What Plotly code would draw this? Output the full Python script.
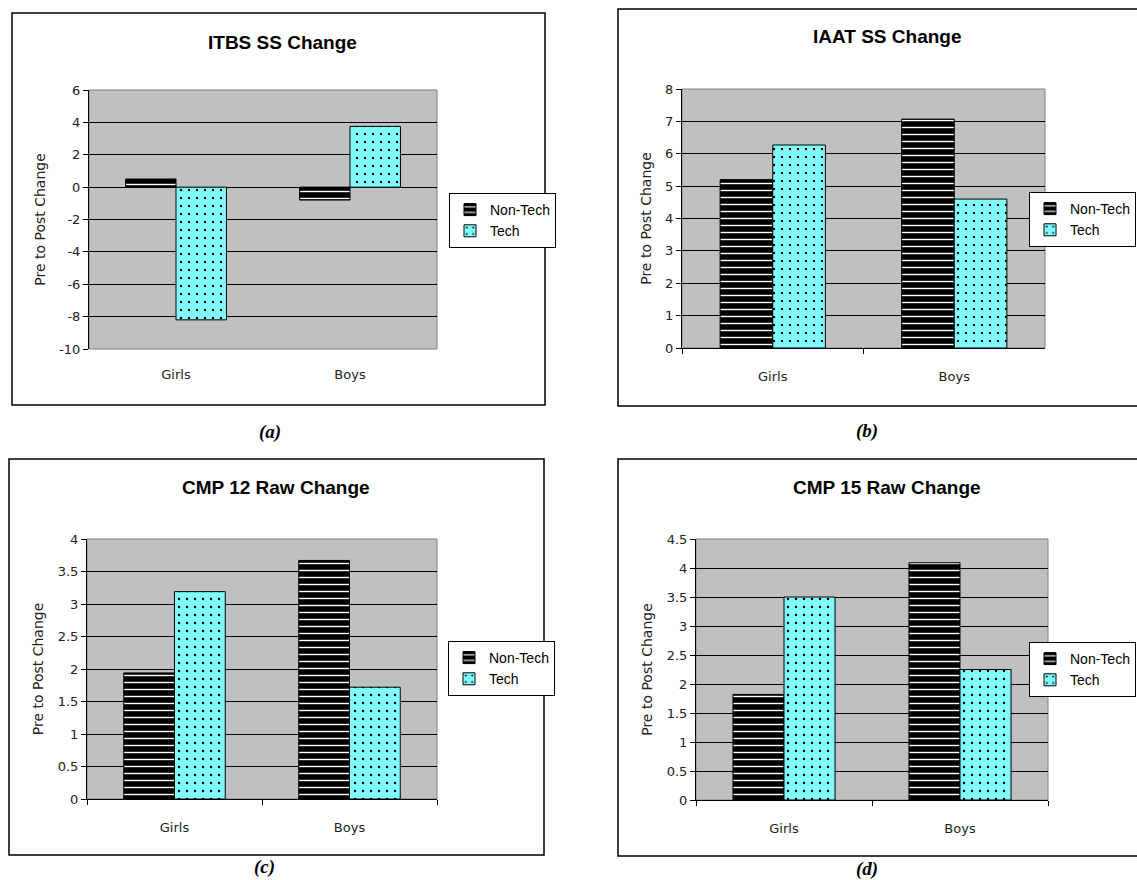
import plotly.graph_objects as go

# ---------------- data ----------------
categories = ["Girls", "Boys"]
series_names = ["Non-Tech", "Tech"]

titles = ["ITBS SS Change", "IAAT SS Change", "CMP 12 Raw Change", "CMP 15 Raw Change"]
captions = ["(a)", "(b)", "(c)", "(d)"]
y_title = "Pre to Post Change"

itbs_nontech = [0.5, -0.8]
itbs_tech = [-8.2, 3.75]
iaat_nontech = [5.2, 7.07]
iaat_tech = [6.27, 4.6]
cmp12_nontech = [1.94, 3.67]
cmp12_tech = [3.19, 1.72]
cmp15_nontech = [1.82, 4.09]
cmp15_tech = [3.5, 2.25]

itbs_ticks = [-10, -8, -6, -4, -2, 0, 2, 4, 6]
iaat_ticks = [0, 1, 2, 3, 4, 5, 6, 7, 8]
cmp12_ticks = [0, 0.5, 1, 1.5, 2, 2.5, 3, 3.5, 4]
cmp15_ticks = [0, 0.5, 1, 1.5, 2, 2.5, 3, 3.5, 4, 4.5]

panels = [
    (itbs_nontech, itbs_tech, itbs_ticks),
    (iaat_nontech, iaat_tech, iaat_ticks),
    (cmp12_nontech, cmp12_tech, cmp12_ticks),
    (cmp15_nontech, cmp15_tech, cmp15_ticks),
]

# ---------------- layout geometry (pixels) ----------------
W, H = 1137, 880
# plot area: x0, x1, ytop, ybottom
plot_px = [(89, 437, 90, 349), (682, 1045, 89, 348), (87, 437, 539, 799), (696, 1048, 539, 800)]
box_px = [(12, 13, 545, 405), (618, 9, 1145, 406), (9, 459, 544, 855), (618, 459, 1145, 856)]
title_px = [(282, 42), (887, 37), (276, 487), (887, 487)]
caption_px = [(270, 432), (867, 431), (264, 867), (867, 869)]
legend_px = [(449, 193), (1029, 192), (448, 641), (1029, 642)]

FONT = "Liberation Sans, Arial, sans-serif"
TICKFONT = "DejaVu Sans, Verdana, sans-serif"
def px(x): return x / W
def py(y): return 1 - y / H

fig = go.Figure()
legend_keys = ["legend", "legend2", "legend3", "legend4"]

for i, (nt, te, ticks) in enumerate(panels):
    ax = "" if i == 0 else str(i + 1)
    fig.add_trace(go.Bar(
        x=categories, y=nt, name=series_names[0],
        xaxis="x" + ax, yaxis="y" + ax, legend=legend_keys[i],
        marker=dict(color="black", line=dict(color="black", width=1),
                    pattern=dict(shape="-", fgcolor="white", bgcolor="black",
                                 size=7, solidity=0.2, fillmode="replace")),
    ))
    fig.add_trace(go.Bar(
        x=categories, y=te, name=series_names[1],
        xaxis="x" + ax, yaxis="y" + ax, legend=legend_keys[i],
        marker=dict(color="#80FFFF", line=dict(color="black", width=1),
                    pattern=dict(shape=".", fgcolor="black", bgcolor="#80FFFF",
                                 size=8, solidity=0.08, fillmode="replace")),
    ))

layout = dict(
    width=W, height=H,
    margin=dict(l=0, r=0, t=0, b=0, autoexpand=False),
    paper_bgcolor="white", plot_bgcolor="#C0C0C0",
    barmode="group", bargap=0.42, bargroupgap=0,
    font=dict(family=FONT, size=12, color="black"),
    showlegend=True,
)

shapes = []
annotations = []
for i, (nt, te, ticks) in enumerate(panels):
    ax = "" if i == 0 else str(i + 1)
    x0, x1, yt, yb = plot_px[i]
    lo, hi = ticks[0], ticks[-1]
    layout["xaxis" + ax] = dict(
        domain=[px(x0), px(x1)], anchor="y" + ax,
        type="category", showgrid=False,
        showline=(i != 0), linecolor="black", linewidth=1,
        ticks="outside" if i != 0 else "", ticklen=5, tickcolor="black",
        tickson="boundaries", ticklabelstandoff=16,
        tickfont=dict(family=TICKFONT, size=13, color="#222"),
        fixedrange=True,
    )
    layout["yaxis" + ax] = dict(
        domain=[py(yb), py(yt)], anchor="x" + ax,
        range=[lo, hi], tickvals=ticks,
        ticktext=[("%g" % t) for t in ticks],
        showgrid=True, gridcolor="black", gridwidth=1,
        zeroline=True, zerolinecolor="black", zerolinewidth=1,
        showline=True, linecolor="black", linewidth=1,
        ticks="outside", ticklen=5, tickcolor="black",
        tickfont=dict(family=TICKFONT, size=13, color="#222"),
        title=dict(text=y_title, font=dict(family=TICKFONT, size=14, color="#222"), standoff=10),
        fixedrange=True,
    )
    # plot area border (gray top/right)
    shapes.append(dict(type="rect", xref="x%s domain" % ax, yref="y%s domain" % ax,
                       x0=0, x1=1, y0=0, y1=1, line=dict(color="#808080", width=1),
                       layer="below"))
    # outer chart box
    bx0, by0, bx1, by1 = box_px[i]
    shapes.append(dict(type="rect", xref="paper", yref="paper",
                       x0=px(bx0), x1=px(bx1), y0=py(by1), y1=py(by0),
                       line=dict(color="black", width=1.5)))
    tx, ty = title_px[i]
    annotations.append(dict(text="<b>%s</b>" % titles[i], x=px(tx), y=py(ty),
                            xref="paper", yref="paper", showarrow=False,
                            xanchor="center", yanchor="middle",
                            font=dict(family=FONT, size=19, color="black")))
    cx, cy = caption_px[i]
    annotations.append(dict(text="<b><i>%s</i></b>" % captions[i], x=px(cx), y=py(cy),
                            xref="paper", yref="paper", showarrow=False,
                            xanchor="center", yanchor="middle",
                            font=dict(family="Liberation Serif, Times New Roman, serif", size=19, color="black")))
    lx, ly = legend_px[i]
    layout[legend_keys[i]] = dict(
        x=px(lx), y=py(ly), xanchor="left", yanchor="top",
        xref="paper", yref="paper",
        bgcolor="white", bordercolor="black", borderwidth=1,
        font=dict(family=FONT, size=14, color="black"),
        itemwidth=30, tracegroupgap=0,
    )

layout["shapes"] = shapes
layout["annotations"] = annotations
fig.update_layout(**layout)

fig.write_html("out.html", config={"displayModeBar": False},
               post_script="document.body.style.margin='0px';document.body.style.overflow='hidden';")
